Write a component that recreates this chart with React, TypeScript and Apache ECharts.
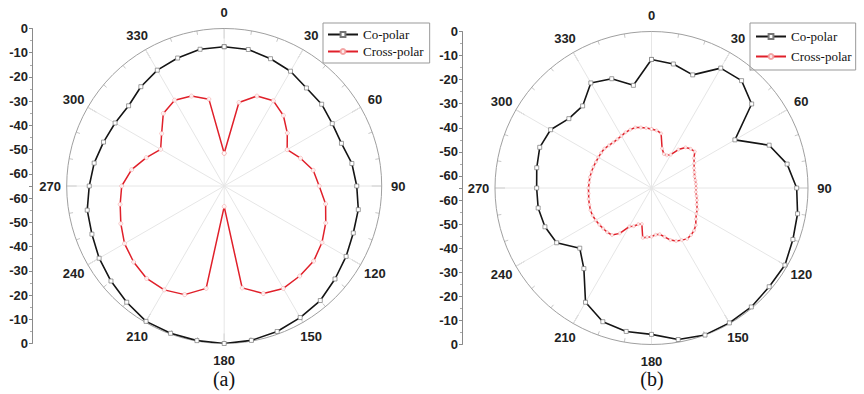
import React, { useEffect, useRef } from 'react';
import * as echarts from 'echarts';

// angles (degrees) for the 10-degree sampled series
const ANGLES_10 = [0, 10, 20, 30, 40, 50, 60, 70, 80, 90, 100, 110, 120, 130, 140, 150, 160, 170,
  180, 190, 200, 210, 220, 230, 240, 250, 260, 270, 280, 290, 300, 310, 320, 330, 340, 350];
// angles (degrees) for the 5-degree sampled series
const ANGLES_5 = [0, 5, 10, 15, 20, 25, 30, 35, 40, 45, 50, 55, 60, 65, 70, 75, 80, 85, 90, 95,
  100, 105, 110, 115, 120, 125, 130, 135, 140, 145, 150, 155, 160, 165, 170, 175, 180, 185, 190,
  195, 200, 205, 210, 215, 220, 225, 230, 235, 240, 245, 250, 255, 260, 265, 270, 275, 280, 285,
  290, 295, 300, 305, 310, 315, 320, 325, 330, 335, 340, 345, 350, 355];
// angular tick labels
const ANGLE_TICKS = [0, 30, 60, 90, 120, 150, 180, 210, 240, 270, 300, 330];

// (a) co-polar / cross-polar (dB)
const CO_A = [-7.5, -7.8, -9.1, -10.3, -12.2, -12.5, -13.5, -13.5, -11.5, -10.3, -8.8, -8.3, -6.9,
  -5.3, -3.3, -2.3, -1.1, -0.3, 0, -0.2, -0.3, -0.5, -2.4, -4, -5.4, -6.9, -7.6, -9.3, -10.5, -12,
  -13, -13.5, -11.5, -9.8, -8.8, -7.7];
const CROSS_A = [-51.5, -30, -25.5, -24.4, -27, -31, -35, -31.5, -27.7, -25.8, -22.5, -20.4, -18.4,
  -16.8, -16.5, -16.2, -17.8, -22.3, -56.5, -22.1, -17.3, -15.5, -15.2, -16.2, -17.5, -19.6, -21.4,
  -22.7, -26.2, -30.8, -34.7, -31.3, -25.9, -24.1, -25.5, -28.6];

// (b) co-polar (10 deg) / cross-polar (5 deg) (dB)
const CO_B = [-11.6, -12.7, -15, -7.5, -6.8, -10.7, -25, -13, -7.8, -4.7, -3.4, -2.5, -1, -1.2,
  -0.5, -0.3, 0, -1.1, -4.2, -4.5, -5.9, -10.2, -21.3, -26.1, -19.5, -17.9, -17.2, -17.3, -16.6,
  -15.6, -16.6, -20.2, -20.5, -14.6, -16.7, -21.7];
const CROSS_B = [-40.5, -41, -42, -48, -50, -50, -49, -45.5, -43, -42, -41.5, -43.5, -44.5, -45.5,
  -46, -46.5, -46.5, -46.5, -46.5, -46.5, -46, -45.5, -45, -44, -43.5, -42.5, -41, -40, -39.5,
  -39.2, -40, -40.7, -42, -44, -45.5, -45.5, -44.8, -44.5, -44, -49.5, -49, -47.5, -46.5, -42,
  -39.5, -39, -38.8, -38.5, -38.2, -38, -38, -38.3, -38.5, -38.8, -38.8, -39, -39, -39.2, -39.3,
  -39.5, -39.5, -39.5, -39.5, -40, -40.3, -40.3, -40, -39.5, -39.2, -39, -39.5, -40];

const SERIES_NAMES = ['Co-polar', 'Cross-polar'];
const PANEL_LABELS = ['(a)', '(b)'];
const R_MIN = -65;
const R_MAX = 0;

const SANS = '"Liberation Sans", Arial, sans-serif';
const SERIF = '"Liberation Serif", "Times New Roman", serif';

// polar layouts: [cx, cy, radius]
const POLARS = [
  [224.2, 186, 157.5],
  [651.5, 188, 156.5],
];
const LABEL_OFFSET = 16.5;

export default function App() {
  const ref = useRef<HTMLDivElement>(null);
  useEffect(() => {
    const chart = echarts.init(ref.current!, null, { renderer: 'svg' });
    const toPolar = (vals: number[], angles: number[]) => {
      const d = vals.map((v, i) => [v, angles[i]]);
      d.push([vals[0], 360]);
      return d;
    };
    const angleAxis = (pi: number) => ({
      polarIndex: pi,
      type: 'value',
      min: 0,
      max: 360,
      interval: 30,
      startAngle: 90,
      clockwise: true,
      axisLine: { show: true, lineStyle: { color: '#a0a0a0', width: 1 } },
      axisTick: { show: true, inside: true, length: 10, lineStyle: { color: '#b8b8b8' } },
      minorTick: { show: true, splitNumber: 3, length: 4, lineStyle: { color: '#c8c8c8' } },
      splitLine: { show: true, lineStyle: { color: '#e6e6e6', width: 1 } },
      axisLabel: { show: false },
    });
    const radiusAxis = (pi: number) => ({
      polarIndex: pi,
      type: 'value',
      min: R_MIN,
      max: R_MAX,
      axisLine: { show: false },
      axisTick: { show: false },
      axisLabel: { show: false },
      splitLine: { show: false },
    });
    const yAxis = (gi: number, inverse: boolean) => ({
      gridIndex: gi,
      type: 'value',
      min: 0,
      max: -R_MIN,
      interval: 10,
      inverse,
      position: 'left',
      axisLine: { show: true, lineStyle: { color: '#8a8a8a' } },
      axisTick: { show: true, length: 3, lineStyle: { color: '#8a8a8a' } },
      minorTick: { show: true, splitNumber: 2, length: 2, lineStyle: { color: '#aaa' } },
      splitLine: { show: false },
      axisLabel: {
        margin: 4,
        fontFamily: SANS,
        fontWeight: 'bold',
        fontSize: 13,
        color: '#222',
        formatter: (v: number) => (v === 0 ? '0' : v > 62 ? '' : '-' + v),
      },
    });
    const grids = [
      { left: 32, top: 28.5, width: 20, height: 157.5 },
      { left: 32, top: 186, width: 20, height: 157.5 },
      { left: 462, top: 31.5, width: 20, height: 156.5 },
      { left: 462, top: 188, width: 20, height: 156.5 },
    ];
    const legend = (left: number, gap: number, pad: number[]) => ({
      data: SERIES_NAMES,
      orient: 'vertical',
      left,
      top: 23,
      itemWidth: 30,
      itemHeight: 6,
      itemGap: gap,
      padding: pad,
      borderColor: '#999',
      borderWidth: 1,
      selectedMode: false,
      textStyle: { fontFamily: SERIF, fontSize: 13, color: '#111' },
    });
    const coSeries = (pi: number, data: number[][]) => ({
      type: 'line',
      name: SERIES_NAMES[0],
      coordinateSystem: 'polar',
      polarIndex: pi,
      data,
      symbol: 'rect',
      symbolSize: 4,
      lineStyle: { color: '#151515', width: 1.6 },
      itemStyle: { color: '#fff', borderColor: '#777', borderWidth: 0.7 },
      z: 3,
    });
    const crossSeries = (pi: number, data: number[][], size: number) => ({
      type: 'line',
      name: SERIES_NAMES[1],
      coordinateSystem: 'polar',
      polarIndex: pi,
      data,
      symbol: 'circle',
      symbolSize: size,
      lineStyle: { color: '#e0202a', width: 1.5 },
      itemStyle: { color: '#fff', borderColor: '#f29a9a', borderWidth: 0.6, opacity: 0.9 },
      z: 3,
    });
    const angleLabels: any[] = [];
    POLARS.forEach(([cx, cy, r]) => {
      ANGLE_TICKS.forEach((a) => {
        const rad = (a * Math.PI) / 180;
        angleLabels.push({
          type: 'text',
          x: cx + (r + LABEL_OFFSET) * Math.sin(rad),
          y: cy - (r + LABEL_OFFSET) * Math.cos(rad),
          style: {
            text: String(a),
            font: 'bold 13px ' + SANS,
            fill: '#222',
            textAlign: 'center',
            textVerticalAlign: 'middle',
          },
        });
      });
    });
    chart.setOption({
      animation: false,
      backgroundColor: '#fff',
      polar: POLARS.map(([cx, cy, r]) => ({ center: [cx, cy], radius: r })),
      angleAxis: [angleAxis(0), angleAxis(1)],
      radiusAxis: [radiusAxis(0), radiusAxis(1)],
      grid: grids,
      xAxis: grids.map((_, i) => ({ gridIndex: i, type: 'value', show: false, min: 0, max: 1 })),
      yAxis: [yAxis(0, true), yAxis(1, false), yAxis(2, true), yAxis(3, false)],
      legend: [legend(323, 4, [5, 6, 5, 4]), legend(750, 7, [7, 4, 7, 5])],
      series: [
        coSeries(0, toPolar(CO_A, ANGLES_10)),
        crossSeries(0, toPolar(CROSS_A, ANGLES_10), 4),
        coSeries(1, toPolar(CO_B, ANGLES_10)),
        crossSeries(1, toPolar(CROSS_B, ANGLES_5), 3),
      ],
      graphic: [
        ...angleLabels,
        {
          type: 'text', x: 224, y: 379,
          style: { text: PANEL_LABELS[0], font: '20px ' + SERIF, fill: '#111', textAlign: 'center', textVerticalAlign: 'middle' },
        },
        {
          type: 'text', x: 652, y: 379,
          style: { text: PANEL_LABELS[1], font: '20px ' + SERIF, fill: '#111', textAlign: 'center', textVerticalAlign: 'middle' },
        },
      ],
    });
    return () => chart.dispose();
  }, []);
  return (
    <div
      ref={ref}
      style={{ position: 'fixed', left: 0, top: 0, width: 864, height: 394, background: '#fff' }}
    />
  );
}
